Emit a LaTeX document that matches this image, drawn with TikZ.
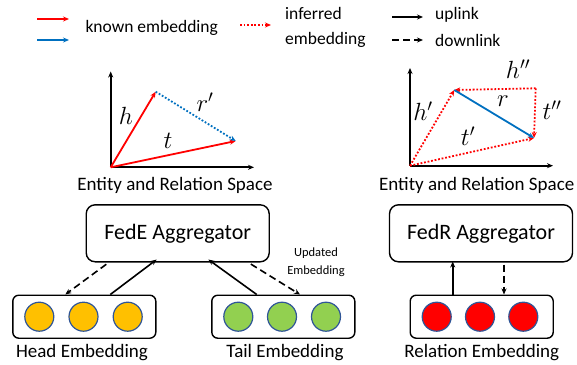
\documentclass[tikz,border=0pt]{standalone}
\usepackage{fontspec}
\setmainfont{Carlito}
\usetikzlibrary{arrows.meta}

\definecolor{vecred}{RGB}{255,0,0}
\definecolor{vecblue}{RGB}{0,112,192}
\definecolor{headfill}{RGB}{255,192,0}
\definecolor{tailfill}{RGB}{146,208,80}
\definecolor{ringblue}{RGB}{47,85,151}

\tikzset{
  vectip/.style={-{Stealth[length=6pt,width=5pt]}},
  vec/.style={vectip,line width=1.8pt},
  infer/.style={vectip,line width=1.8pt,dash pattern=on 1.8pt off 1.8pt},
  uparrow/.style={vectip,line width=1.6pt,black},
  downarrow/.style={uparrow,dash pattern=on 7pt off 4pt},
  axisline/.style={vectip,line width=1.7pt,black},
  agg/.style={draw,line width=1.4pt,rounded corners=9pt,minimum width=183pt,minimum height=57pt,font=\fontsize{22}{26}\selectfont},
  emb/.style={draw,line width=1.4pt,rounded corners=6pt,minimum width=143pt,minimum height=43pt},
  ball/.style={circle,draw=ringblue,line width=1.2pt,minimum size=29pt,inner sep=0pt},
  veclabel/.style={font=\fontsize{25}{28}\selectfont},
  spacetext/.style={font=\fontsize{19}{22}\selectfont},
  legtext/.style={font=\fontsize{17.5}{25}\selectfont}
}

\begin{document}
\begin{tikzpicture}[x=1pt,y=-1pt]
    \useasboundingbox (0,0) rectangle (577,364);

    % legend
    \coordinate (k1) at (37,19);  \coordinate (k1e) at (69,19);
    \coordinate (k2) at (37,40);  \coordinate (k2e) at (69,40);
    \coordinate (i1) at (240,25); \coordinate (i1e) at (271,25);
    \coordinate (u1) at (392,17); \coordinate (u1e) at (423,17);
    \coordinate (d1) at (392,40); \coordinate (d1e) at (423,40);
    \draw[vec,vecred] (k1) -- (k1e);
    \draw[vec,vecblue] (k2) -- (k2e);
    \draw[infer,vecred] (i1) -- (i1e);
    \draw[uparrow] (u1) -- (u1e);
    \draw[downarrow] (d1) -- (d1e);
    \node[legtext,anchor=west] (known) at (82,28) {known embedding};
    \node[legtext,anchor=west,align=left,inner sep=0pt] (inferred) at (285,27.5) {inferred\\embedding};
    \node[legtext,anchor=west,inner sep=0pt] (uplink) at (435,15) {uplink};
    \node[legtext,anchor=west,inner sep=0pt] (downlink) at (435,40) {downlink};

    % FedE space
    \coordinate (o1) at (110.7,167.3);
    \coordinate (y1) at (110.7,71.5);
    \coordinate (x1) at (254,167.3);
    \coordinate (h1) at (155.7,91.7);
    \coordinate (t1) at (235.7,141);
    \draw[axisline] (o1) -- (y1);
    \draw[axisline] (o1) -- (x1);
    \draw[vec,vecred] (o1) -- (h1);
    \draw[vec,vecred] (o1) -- (t1);
    \draw[infer,vecblue] (h1) -- (t1);
    \node[veclabel] at (126,116) {$h$};
    \node[veclabel] at (168,141) {$t$};
    \node[veclabel] at (205,102) {$r'$};
    \node[spacetext] (space1) at (175,185) {Entity and Relation Space};

    % FedR space
    \coordinate (o2) at (410,165.7);
    \coordinate (y2) at (410,68);
    \coordinate (x2) at (553,165.7);
    \coordinate (h2) at (454.3,90);
    \coordinate (t2) at (534,138);
    \coordinate (c2) at (535.7,88.3);
    \draw[axisline] (o2) -- (y2);
    \draw[axisline] (o2) -- (x2);
    \draw[infer,vecred] (o2) -- (h2);
    \draw[infer,vecred] (o2) -- (t2);
    \draw[infer,vecred] (c2) -- (h2);
    \draw[infer,vecred] (c2) -- (t2);
    \draw[vec,vecblue] (h2) -- (t2);
    \node[veclabel] at (423,111) {$h'$};
    \node[veclabel] at (468,136) {$t'$};
    \node[veclabel] at (503,101) {$r$};
    \node[veclabel] at (518,69) {$h''$};
    \node[veclabel] at (552,110) {$t''$};
    \node[spacetext] (space2) at (476.7,185) {Entity and Relation Space};

    % FedE side
    \node[agg] (fede) at (177.7,233.3) {FedE Aggregator};
    \node[emb] (head) at (84.3,316.7) {};
    \node[emb] (tail) at (283.3,316.7) {};
    \foreach \i/\x in {1/39.3,2/83.5,3/127.7} {
        \node[ball,fill=headfill] (hd\i) at (\x,316.7) {};
    }
    \foreach \i/\x in {1/238.3,2/282,3/326} {
        \node[ball,fill=tailfill] (tl\i) at (\x,316.7) {};
    }
    \node[spacetext] at (82,353) {Head Embedding};
    \node[spacetext] at (285,353) {Tail Embedding};
    \draw[downarrow,shorten <=3pt] ([xshift=-69pt]fede.south) -- ([xshift=-19pt]head.north);
    \draw[uparrow] ([xshift=26pt]head.north) -- ([xshift=-21pt,yshift=3pt]fede.south);
    \draw[uparrow] ([xshift=-26.6pt]tail.north) -- ([xshift=30.6pt,yshift=3pt]fede.south);
    \draw[downarrow,shorten <=3pt] ([xshift=70.6pt]fede.south) -- ([xshift=16.7pt]tail.north);
    \node[font=\fontsize{12.5}{18}\selectfont,align=center] at (316,262.5) {Updated\\Embedding};

    % FedR side
    \node[agg] (fedr) at (481,233.3) {FedR Aggregator};
    \node[emb] (rel) at (481.7,316.7) {};
    \foreach \i/\x in {1/436.7,2/480,3/523.3} {
        \node[ball,fill=vecred] (rl\i) at (\x,316.7) {};
    }
    \node[spacetext] at (481.7,353) {Relation Embedding};
    \draw[uparrow] ([xshift=-29pt]rel.north) -- ([xshift=-28.3pt,yshift=1pt]fedr.south);
    \draw[downarrow,shorten <=2pt] ([xshift=23pt]fedr.south) -- ([xshift=22.3pt]rel.north);
\end{tikzpicture}
\end{document}
